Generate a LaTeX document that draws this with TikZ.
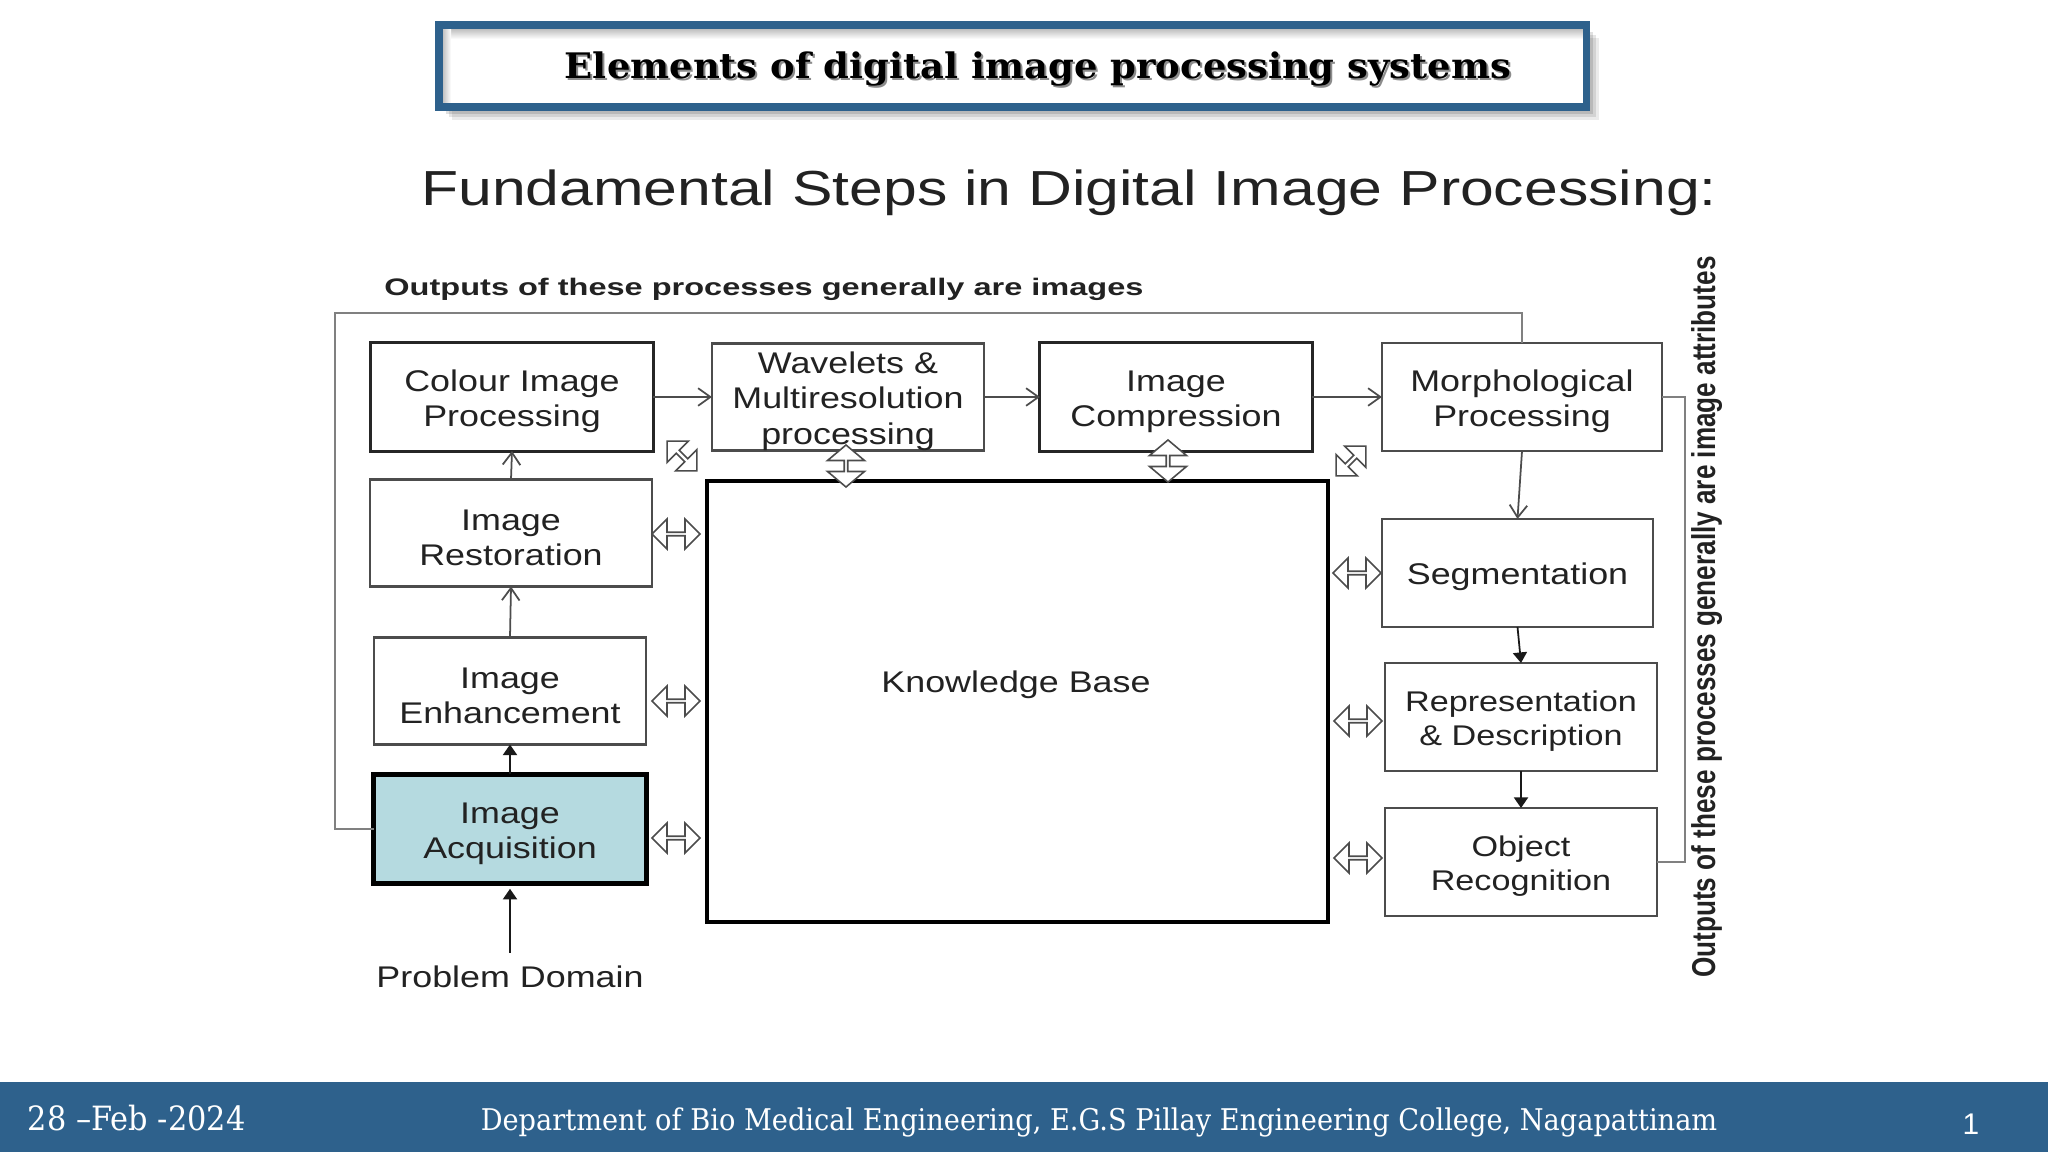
\documentclass[tikz,border=0pt]{standalone}
\usepackage{fontspec}
\usepackage{tikz}
\usetikzlibrary{arrows.meta,shapes.arrows}
\setmainfont{Liberation Sans}
\newfontfamily\boxfont[FakeStretch=1.2]{Liberation Sans}
\newfontfamily\headfont[FakeStretch=1.233]{Liberation Sans}
\newfontfamily\capfont[FakeStretch=1.36]{Liberation Sans}
\newfontfamily\sidefont[FakeStretch=0.79]{Liberation Sans}
\newfontfamily\titlefont[FakeStretch=1.05]{DejaVu Serif}
\newfontfamily\slidefont[FakeStretch=0.91]{DejaVu Serif}
\definecolor{slideblue}{HTML}{2E618C}
\definecolor{acqfill}{HTML}{B5DAE0}
\definecolor{inkgrey}{HTML}{222222}
\def\lowered{\rule{0pt}{1em}}
\tikzset{
	stepbox/.style={draw=black!70,line width=0.6pt,fill=white,rectangle,inner sep=0pt,outer sep=0pt,text=inkgrey,align=center,font=\boxfont\fontsize{8.5}{10}\selectfont},
	darkbox/.style={stepbox,draw=black!85,line width=0.85pt},
	smallbox/.style={stepbox,font=\boxfont\fontsize{8.1}{9.6}\selectfont},
	feedline/.style={draw=black!50,line width=0.6pt},
	openarrow/.style={draw=black!70,line width=0.5pt,-{Straight Barb[length=3.5pt,width=5pt]}},
	solidarrow/.style={draw=black!90,line width=0.5pt,-{Triangle[length=3pt,width=4pt]}},
	linkarrow/.style={double arrow,draw=black!70,fill=white,line width=0.45pt,inner sep=0pt,minimum height=0.48cm,minimum width=0.3cm,double arrow head extend=0.06cm},
	uplink/.style={linkarrow,rotate=90,minimum height=0.42cm,minimum width=0.37cm,double arrow head extend=0.075cm,double arrow tip angle=100},
	corner/.style={linkarrow,minimum height=0.42cm,minimum width=0.3cm,double arrow head extend=0.05cm}
}
\begin{document}
\begin{tikzpicture}[x=0.01cm,y=-0.01cm]
	\useasboundingbox (0,0) rectangle (2048,1152);
	% title strip
	\foreach \o/\a in {4/.12,7/.12,10/.10,13/.08}
		\fill[black,opacity=\a] (439+\o,25+\o) rectangle (1586+\o,107+\o);
	\fill[white] (439,25) rectangle (1586,107);
	\shade[top color=black!35,bottom color=white] (439,25) rectangle (1586,39);
	\shade[left color=black!35,right color=white] (439,25) rectangle (451,107);
	\draw[slideblue,line width=2pt] (439,25) rectangle (1586,107);
	\node[text=black!45,font=\titlefont\bfseries\fontsize{10}{12}\selectfont,anchor=base] at (1040,81) {Elements of digital image processing systems};
	\node (title) [text=black,font=\titlefont\bfseries\fontsize{10}{12}\selectfont,anchor=base] at (1038,79) {Elements of digital image processing systems};
	\node (heading) [text=inkgrey,font=\headfont\fontsize{14}{16}\selectfont,anchor=base] at (1069,206) {Fundamental Steps in Digital Image Processing:};
	\node (imgcap) [text=inkgrey,font=\capfont\bfseries\fontsize{6.8}{8}\selectfont,anchor=base] at (764,296) {Outputs of these processes generally are images};
	\node (attrcap) [text=inkgrey,rotate=90,font=\sidefont\bfseries\fontsize{9.4}{11}\selectfont,anchor=base] at (1715,617) {Outputs of these processes generally are image attributes};
	% boxes
	\node (colour) [darkbox,minimum width=2.82cm,minimum height=1.08cm] at (512,397) {\lowered Colour Image\\Processing};
	\node (wave) [stepbox,minimum width=2.72cm,minimum height=1.07cm] at (848,397) {\lowered Wavelets \&\\Multiresolution\\processing};
	\node (compress) [darkbox,minimum width=2.72cm,minimum height=1.08cm] at (1176,397) {\lowered Image\\Compression};
	\node (morph) [stepbox,minimum width=2.8cm,minimum height=1.08cm] at (1522,397) {\lowered Morphological\\Processing};
	\node (restore) [stepbox,minimum width=2.81cm,minimum height=1.07cm] at (511,533) {\lowered Image\\Restoration};
	\node (enhance) [stepbox,minimum width=2.71cm,minimum height=1.07cm] at (510,691) {\lowered Image\\Enhancement};
	\node (acquire) [darkbox,draw=black,line width=1.4pt,fill=acqfill,minimum width=2.72cm,minimum height=1.09cm] at (510,829) {\lowered Image\\Acquisition};
	\node (domain) [text=inkgrey,font=\boxfont\fontsize{8.5}{10}\selectfont,anchor=base] at (510,987) {Problem Domain};
	\node (segment) [stepbox,minimum width=2.71cm,minimum height=1.08cm] at (1517.5,573) {\lowered Segmentation};
	\node (repr) [smallbox,minimum width=2.72cm,minimum height=1.08cm] at (1521,717) {\lowered Representation\\\& Description};
	\node (object) [smallbox,minimum width=2.72cm,minimum height=1.08cm] at (1521,862) {\lowered Object\\Recognition};
	\node (kb) [stepbox,draw=black,line width=1.1pt,minimum width=6.21cm,minimum height=4.41cm] at (1017.5,701.5) {};
	\node (kblabel) [text=inkgrey,font=\boxfont\fontsize{8.5}{10}\selectfont] at (1016,685) {Knowledge Base};
	% outputs lines
	\coordinate (imgleft) at (335,829);
	\coordinate (imgtop) at (335,313);
	\coordinate (imgright) at (1522,313);
	\coordinate (attrtop) at (1685,397);
	\coordinate (attrlow) at (1685,862);
	\draw[feedline] (acquire.west) -- (imgleft) -- (imgtop) -- (imgright) -- (morph.north);
	\draw[feedline] (morph.east) -- (attrtop) -- (attrlow) -- (object.east);
	% flow
	\draw[solidarrow,shorten >=1.5pt] (domain.north) -- (acquire.south);
	\draw[solidarrow] (acquire.north) -- (enhance.south);
	\draw[openarrow] (enhance.north) -- (restore.south);
	\draw[openarrow] (restore.north) -- (colour.south);
	\draw[openarrow] (colour.east) -- (wave.west);
	\draw[openarrow] (wave.east) -- (compress.west);
	\draw[openarrow] (compress.east) -- (morph.west);
	\draw[openarrow] (morph.south) -- (segment.north);
	\draw[solidarrow] (segment.south) -- (repr.north);
	\draw[solidarrow] (repr.south) -- (object.north);
	% links to the knowledge base
	\node (lrestore) [linkarrow] at (676,534) {};
	\node (lenhance) [linkarrow] at (676,701) {};
	\node (lacquire) [linkarrow] at (676,838) {};
	\node (lsegment) [linkarrow] at (1357,573) {};
	\node (lrepr) [linkarrow] at (1358,721) {};
	\node (lobject) [linkarrow] at (1358,858) {};
	\node (lwave) [uplink] at (846,466) {};
	\node (lcompress) [uplink] at (1168,461) {};
	\node (lcolour) [corner,rotate=-45] at (682,456) {};
	\node (lmorph) [corner,rotate=45] at (1351,461) {};
	% footer
	\fill[slideblue] (0,1082) rectangle (2048,1152);
	\node (date) [text=white,font=\slidefont\fontsize{9.5}{11}\selectfont,anchor=base west,inner sep=0pt] at (27,1130) {28 –Feb -2024};
	\node (dept) [text=white,font=\slidefont\fontsize{8.5}{10}\selectfont,anchor=base,inner sep=0pt] at (1099,1130) {Department of Bio Medical Engineering, E.G.S Pillay Engineering College, Nagapattinam};
	\node (page) [text=white,font=\fontsize{8.5}{10}\selectfont,anchor=base,inner sep=0pt] at (1971,1134) {1};
\end{tikzpicture}
\end{document}
